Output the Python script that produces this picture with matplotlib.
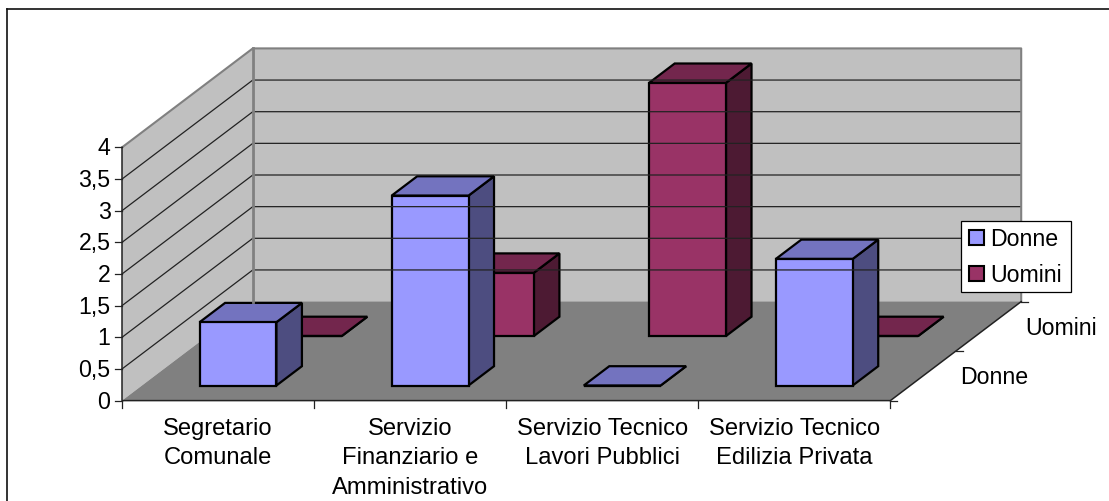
import numpy as np
import matplotlib
matplotlib.use('Agg')
import matplotlib.pyplot as plt
from matplotlib.patches import Polygon, Rectangle

categories = ['Segretario\nComunale', 'Servizio\nFinanziario e\nAmministrativo',
              'Servizio Tecnico\nLavori Pubblici', 'Servizio Tecnico\nEdilizia Privata']
series_names = ['Donne', 'Uomini']
donne = [1, 3, 0, 2]
uomini = [0, 1, 4, 0]
value_ticks = [0, 0.5, 1, 1.5, 2, 2.5, 3, 3.5, 4]
value_labels = ['0', '0,5', '1', '1,5', '2', '2,5', '3', '3,5', '4']

plt.rcParams['font.family'] = ['Liberation Sans', 'DejaVu Sans']
FS = 16.7
FS_CAT = 17.1

# oblique box: front left corner, px per category, per value, per depth row
X0, Y0 = 122.0, 401.6
CAT_W = 192.1
VAL_H = 63.3
ROW_DX, ROW_DY = 65.4, -49.5
BAR_W = 0.4
BAR_D = 0.39


def proj(c, v, d):
    return (X0 + c * CAT_W + d * ROW_DX, Y0 - v * VAL_H + d * ROW_DY)


def draw_bar(ax, i, row, value, cols):
    c0 = i + (1 - BAR_W) / 2
    c1 = c0 + BAR_W
    d0 = row + (1 - BAR_D) / 2
    d1 = d0 + BAR_D
    front = [proj(c0, 0, d0), proj(c1, 0, d0), proj(c1, value, d0), proj(c0, value, d0)]
    side = [proj(c1, 0, d0), proj(c1, 0, d1), proj(c1, value, d1), proj(c1, value, d0)]
    top = [proj(c0, value, d0), proj(c1, value, d0), proj(c1, value, d1), proj(c0, value, d1)]
    for pts, col in zip([side, top, front], cols):
        ax.add_patch(Polygon(pts, closed=True, facecolor=col, edgecolor='black',
                             linewidth=1.6, joinstyle='miter'))


fig = plt.figure(figsize=(11.09, 5.02), dpi=100)
ax = fig.add_axes([0, 0, 1, 1])
ax.set_xlim(0, 1109)
ax.set_ylim(502, 0)
ax.axis('off')

# outer frame, runs off the right and bottom of the picture
ax.plot([7, 7], [530, 10], color='#111111', lw=1.2)
ax.plot([7, 1130], [10, 10], color='#111111', lw=1.2)

# walls and floor
ax.add_patch(Polygon([proj(0, 0, 0), proj(0, 0, 2), proj(0, 4, 2), proj(0, 4, 0)],
                     facecolor='#C0C0C0', edgecolor='none'))
ax.add_patch(Polygon([proj(0, 0, 2), proj(4, 0, 2), proj(4, 4, 2), proj(0, 4, 2)],
                     facecolor='#C0C0C0', edgecolor='none'))
ax.add_patch(Polygon([proj(0, 0, 0), proj(4, 0, 0), proj(4, 0, 2), proj(0, 0, 2)],
                     facecolor='#808080', edgecolor='none'))

# gridlines on the two walls
for v in value_ticks[1:-1]:
    pts = [proj(0, v, 0), proj(0, v, 2), proj(4, v, 2)]
    ax.plot(*zip(*pts), color='#222222', lw=0.9, solid_joinstyle='miter')

# wall edges
ax.plot(*zip(*[proj(0, 4, 0), proj(0, 4, 2), proj(4, 4, 2), proj(4, 0, 2)]), color='#808080', lw=1.5)
ax.plot(*zip(*[proj(0, 0, 2), proj(0, 4, 2)]), color='#808080', lw=2)

# axes lines
ax.plot(*zip(*[proj(0, 4, 0), proj(0, 0, 0), proj(4, 0, 0), proj(4, 0, 2)]), color='#222222', lw=1.1)

for v, lab in zip(value_ticks, value_labels):
    x, y = proj(0, v, 0)
    ax.plot([x - 7, x], [y, y], color='#222222', lw=0.9)
    ax.text(x - 11.5, y + 0.5, lab, ha='right', va='center', fontsize=FS, color='black')

for i in range(5):
    x, y = proj(i, 0, 0)
    ax.plot([x, x], [y, y + 7], color='#222222', lw=0.9)

for i, lab in enumerate(categories):
    x, y = proj(i + 0.5, 0, 0)
    ax.text(x, y + 16, lab, ha='center', va='top', fontsize=FS_CAT, color='black',
            linespacing=1.46, multialignment='center')

for d, lab in zip([0, 1, 2], [None] + series_names):
    x, y = proj(4, 0, d)
    ax.plot([x, x + 7], [y, y], color='#222222', lw=0.9)
    if lab:
        ax.text(x + 4.5, y + 25.5, lab, ha='left', va='center', fontsize=FS, color='black')

# bars, back row first so the front row covers it
u_cols = ['#4D1A33', '#73264D', '#993366']
d_cols = ['#4D4D80', '#7373BF', '#9999FF']
for i, val in enumerate(uomini):
    draw_bar(ax, i, 1, val, u_cols)
for i, val in enumerate(donne):
    draw_bar(ax, i, 0, val, d_cols)

# legend box
ax.add_patch(Rectangle((961, 221.5), 110, 71, facecolor='white', edgecolor='black',
                       linewidth=0.9, zorder=5))
for name, col, yc in zip(series_names, [d_cols[2], u_cols[2]], [238.5, 274]):
    ax.add_patch(Rectangle((968.5, yc - 7.5), 15, 15, facecolor=col, edgecolor='black',
                           linewidth=1.5, zorder=6))
    ax.text(990, yc + 1.5, name, ha='left', va='center', fontsize=FS, color='black', zorder=6)

fig.savefig('out.png', dpi=100)
